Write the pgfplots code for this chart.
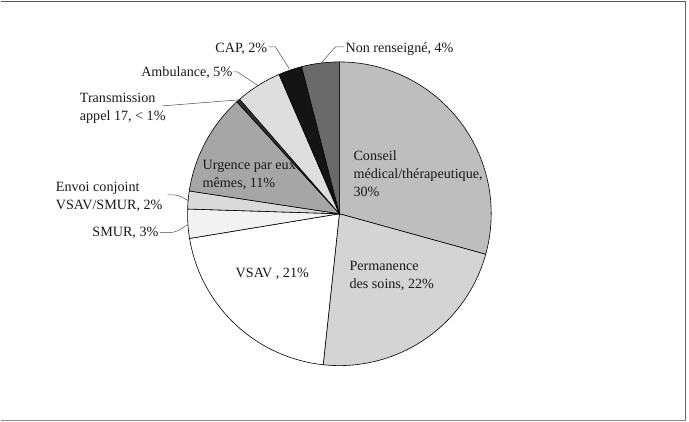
\documentclass[border=0pt]{standalone}
\usepackage{pgfplots}
\pgfplotsset{compat=1.18}
\usepackage{fontspec}
\setmainfont{Liberation Serif}
\definecolor{cA}{HTML}{BEBEBE}
\definecolor{cB}{HTML}{D4D4D4}
\definecolor{cC}{HTML}{FFFFFF}
\definecolor{cD}{HTML}{F2F2F2}
\definecolor{cE}{HTML}{DADADA}
\definecolor{cF}{HTML}{A6A6A6}
\definecolor{cG}{HTML}{303030}
\definecolor{cH}{HTML}{DEDEDE}
\definecolor{cI}{HTML}{141414}
\definecolor{cJ}{HTML}{6A6A6A}
\tikzset{
  lbl/.style={font=\fontsize{14.2}{18}\selectfont, inner sep=0pt, align=left, text=black!90},
  ld/.style={draw=black!70, line width=0.5pt},
}
% values (percent), clockwise from 12 o'clock
\def\vA{29.3}% Conseil medical/therapeutique
\def\vB{22.4}% Permanence des soins
\def\vC{20.7}% VSAV
\def\vD{3.1}%  SMUR
\def\vE{1.9}%  Envoi conjoint VSAV/SMUR
\def\vF{10.8}% Urgence par eux memes
\def\vG{0.4}%  Transmission appel 17
\def\vH{4.9}%  Ambulance
\def\vI{2.5}%  CAP
\def\vJ{4.0}%  Non renseigne
\pgfmathsetmacro\aA{90}
\pgfmathsetmacro\aB{\aA-3.6*\vA}
\pgfmathsetmacro\aC{\aB-3.6*\vB}
\pgfmathsetmacro\aD{\aC-3.6*\vC}
\pgfmathsetmacro\aE{\aD-3.6*\vD}
\pgfmathsetmacro\aF{\aE-3.6*\vE}
\pgfmathsetmacro\aG{\aF-3.6*\vF}
\pgfmathsetmacro\aH{\aG-3.6*\vG}
\pgfmathsetmacro\aI{\aH-3.6*\vH}
\pgfmathsetmacro\aJ{\aI-3.6*\vI}
\pgfmathsetmacro\aK{\aJ-3.6*\vJ}
\begin{document}
\begin{tikzpicture}
\begin{axis}[
  width=689bp, height=422bp, scale only axis,
  xmin=-339, xmax=350, ymin=-208, ymax=214,
  axis lines=none, clip=false,
  every axis plot/.append style={draw=black, line width=0.6pt, samples=90, variable=\t},
]
\path (axis cs:-339,-208) rectangle (axis cs:350,214);
\addplot[fill=cA, domain=\aA:\aB] ({152*cos(\t)},{152*sin(\t)}) -- (axis cs:0,0) -- cycle;
\addplot[fill=cB, domain=\aB:\aC] ({152*cos(\t)},{152*sin(\t)}) -- (axis cs:0,0) -- cycle;
\addplot[fill=cC, domain=\aC:\aD] ({152*cos(\t)},{152*sin(\t)}) -- (axis cs:0,0) -- cycle;
\addplot[fill=cD, domain=\aD:\aE] ({152*cos(\t)},{152*sin(\t)}) -- (axis cs:0,0) -- cycle;
\addplot[fill=cE, domain=\aE:\aF] ({152*cos(\t)},{152*sin(\t)}) -- (axis cs:0,0) -- cycle;
\addplot[fill=cF, domain=\aF:\aG] ({152*cos(\t)},{152*sin(\t)}) -- (axis cs:0,0) -- cycle;
\addplot[fill=cG, domain=\aG:\aH] ({152*cos(\t)},{152*sin(\t)}) -- (axis cs:0,0) -- cycle;
\addplot[fill=cH, domain=\aH:\aI] ({152*cos(\t)},{152*sin(\t)}) -- (axis cs:0,0) -- cycle;
\addplot[fill=cI, domain=\aI:\aJ] ({152*cos(\t)},{152*sin(\t)}) -- (axis cs:0,0) -- cycle;
\addplot[fill=cJ, domain=\aJ:\aK] ({152*cos(\t)},{152*sin(\t)}) -- (axis cs:0,0) -- cycle;
% labels inside
\node[lbl, anchor=west] at (axis cs:14,40) {Conseil\\médical/thérapeutique,\\30\%};
\node[lbl, anchor=west] at (axis cs:10,-62) {Permanence\\des soins, 22\%};
\node[lbl, anchor=west] at (axis cs:-104,-60) {VSAV , 21\%};
\node[lbl, anchor=west] at (axis cs:-137,39) {Urgence par eux\\mêmes, 11\%};
% labels outside
\node[lbl, anchor=east] at (axis cs:-72,165) {CAP, 2\%};
\draw[ld] (axis cs:-71,167) -- (axis cs:-64,167) -- (axis cs:-50,145);
\node[lbl, anchor=west] at (axis cs:6,165) {Non renseigné, 4\%};
\draw[ld] (axis cs:5,167) -- (axis cs:-4,167) -- (axis cs:-19,150);
\node[lbl, anchor=east] at (axis cs:-107,141) {Ambulance, 5\%};
\draw[ld] (axis cs:-106,142) -- (axis cs:-102,142) -- (axis cs:-81,128);
\node[lbl, anchor=west] at (axis cs:-260,105.5) {Transmission\\appel 17, < 1\%};
\draw[ld] (axis cs:-177,108) -- (axis cs:-101,114);
\node[lbl, anchor=west] at (axis cs:-284,17) {Envoi conjoint\\VSAV/SMUR, 2\%};
\draw[ld] (axis cs:-172,19) .. controls (axis cs:-162,19) .. (axis cs:-151,13);
\node[lbl, anchor=east] at (axis cs:-181,-19) {SMUR, 3\%};
\draw[ld] (axis cs:-180,-19) .. controls (axis cs:-164,-19) .. (axis cs:-152,-11);
% frame
\draw[draw=black!65, line width=1.5pt] (axis cs:-339,212.5) -- (axis cs:347,212.5);
\draw[draw=black!60, line width=1.2pt] (axis cs:346.5,213) -- (axis cs:346.5,-207);
\draw[draw=black!45, line width=1.5pt] (axis cs:-339,-207) -- (axis cs:347,-207);
\end{axis}
\end{tikzpicture}
\end{document}
